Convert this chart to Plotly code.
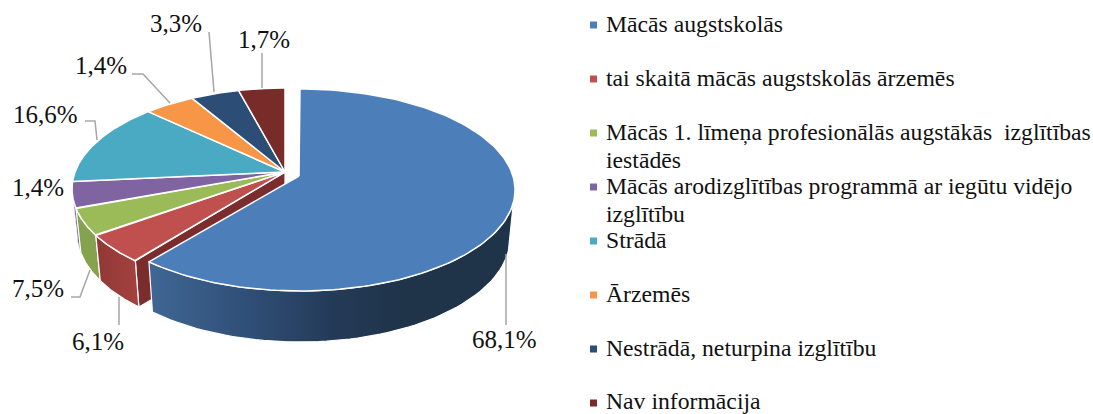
import numpy as np
import plotly.graph_objects as go

# ---- data ----
categories = [
    "Mācās augstskolās",
    "tai skaitā mācās augstskolās ārzemēs",
    "Mācās 1. līmeņa profesionālās augstākās \u00a0izglītības<br>iestādēs",
    "Mācās arodizglītības programmā ar iegūtu vidējo<br>izglītību",
    "Strādā",
    "Ārzemēs",
    "Nestrādā, neturpina izglītību",
    "Nav informācija",
]
# printed labels
value_labels = ["68,1%", "6,1%", "7,5%", "1,4%", "16,6%", "1,4%", "3,3%", "1,7%"]
# share of the circle that each slice visibly takes in the drawing
slice_shares = [62.4, 5.0, 4.5, 4.3, 12.7, 3.9, 3.7, 3.5]
colors = ["#4c7fba", "#c0504d", "#9bbb59", "#8064a2", "#4aa9c3", "#f79646", "#2c4d75", "#772c2a"]

# ---- layout constants (pixel-space axes) ----
W, H = 1093, 414
SERIF = "Liberation Serif"
TXT = "#111111"
MAIN = dict(cx=300, cy=190, rx=215, ry=101, ax=299, ay=176, lcx=300, lcy=238, lrx=210, lry=104)
REST = dict(cx=285, cy=189, rx=213, ry=101, ax=285, ay=172, lcx=285, lcy=233, lrx=208, lry=104)

edges = np.concatenate([[0], np.cumsum(slice_shares)]) / sum(slice_shares) * 2 * np.pi


def rim(g, t):
    return g["cx"] + g["rx"] * np.sin(t), g["cy"] - g["ry"] * np.cos(t)


def low(g, t):
    return g["lcx"] + g["lrx"] * np.sin(t), g["lcy"] - g["lry"] * np.cos(t)


def poly(xs, ys, fill=None, grad=None, lw=1.2, line="white"):
    kw = dict(fillgradient=grad) if grad else dict(fillcolor=fill)
    return go.Scatter(x=list(xs), y=list(ys), mode="lines", fill="toself",
                      line=dict(color=line, width=lw), hoverinfo="skip",
                      showlegend=False, **kw)


def wall(g, t0, t1, fill=None, grad=None, lw=1.2):
    t = np.linspace(t0, t1, 60)
    xa, ya = rim(g, t)
    xb, yb = low(g, t[::-1])
    return poly(np.r_[xa, xb, xa[0]], np.r_[ya, yb, ya[0]], fill, grad, lw)


def top(g, t0, t1, fill):
    t = np.linspace(t0, t1, 160)
    x, y = rim(g, t)
    return poly(np.r_[g["ax"], x, g["ax"]], np.r_[g["ay"], y, g["ay"]], fill, lw=1.5)


fig = go.Figure()

# side walls of the detached group (back to front)
fig.add_trace(wall(REST, edges[3], np.deg2rad(270), fill="#6d5590", lw=0.6))
fig.add_trace(wall(REST, edges[2], edges[3], fill="#85a24e"))
# cut face of the red slice
xr, yr = rim(REST, edges[1])
xl, yl = low(REST, edges[1])
fig.add_trace(poly([xr, REST["ax"], REST["ax"], xl, xr],
                   [yr, REST["ay"], REST["ay"] + 50, yl, yr], fill="#7b2c2c"))
fig.add_trace(wall(REST, edges[1], edges[2], grad=dict(
    type="horizontal", colorscale=[[0, "#8f3836"], [1, "#a5423f"]])))
for i in range(1, 8):
    fig.add_trace(top(REST, edges[i], edges[i + 1], colors[i]))

# main slice
fig.add_trace(wall(MAIN, np.deg2rad(97), edges[1], grad=dict(
    type="horizontal",
    colorscale=[[0, "#406794"], [0.25, "#31507a"], [0.5, "#243b58"], [0.7, "#1f3349"], [1, "#1f3349"]])))
fig.add_trace(top(MAIN, edges[0], edges[1], colors[0]))

# leader lines, one per label (same order as value_labels)
leaders = [
    ([506, 506], [254, 325]),
    ([119, 119], [297, 325]),
    ([90, 80, 71], [270, 297, 297]),
    None,
    ([97, 95, 85], [140, 121, 121]),
    ([170, 143, 132], [103, 74, 74]),
    ([214, 209], [92, 32]),
    ([262, 262], [88, 53]),
]
for seg in leaders:
    if seg:
        fig.add_trace(go.Scatter(x=seg[0], y=seg[1], mode="lines", hoverinfo="skip", showlegend=False,
                                 line=dict(color="#a6a6a6", width=1.5)))

# value labels
label_xy = [(504, 339), (98, 341), (38, 288), (38, 187), (45, 114), (101, 65), (176, 23), (264, 39)]
annotations = [dict(x=x, y=y, text=s, showarrow=False, xanchor="center", yanchor="middle",
                    font=dict(family=SERIF, size=25, color=TXT))
               for (x, y), s in zip(label_xy, value_labels)]

# legend
legend_y = [25, 79, 133, 187, 241, 295, 349, 403]
LINE_STEP = 27.5
fig.add_trace(go.Scatter(x=[593.5] * len(legend_y), y=legend_y, mode="markers", hoverinfo="skip", showlegend=False,
                         marker=dict(symbol="square", size=7, color=colors, line=dict(width=0))))
for y, name in zip(legend_y, categories):
    for k, part in enumerate(name.split("<br>")):
        # the last entry is nudged slightly so that its box stays inside the page
        dy = -1 if y < 400 else -2.5
        annotations.append(dict(x=604, y=y + dy + k * LINE_STEP, text=part, showarrow=False,
                                xanchor="left", yanchor="middle", align="left",
                                font=dict(family=SERIF, size=23.7, color=TXT)))

fig.update_layout(
    width=W, height=H, margin=dict(l=0, r=0, t=0, b=0),
    paper_bgcolor="white", plot_bgcolor="white", showlegend=False,
    xaxis=dict(range=[0, W], visible=False, fixedrange=True),
    yaxis=dict(range=[H, 0], visible=False, fixedrange=True),
    annotations=annotations,
)
fig.write_html("out.html", config=dict(displayModeBar=False),
               post_script="document.body.style.margin='0';document.body.style.overflow='hidden';")
